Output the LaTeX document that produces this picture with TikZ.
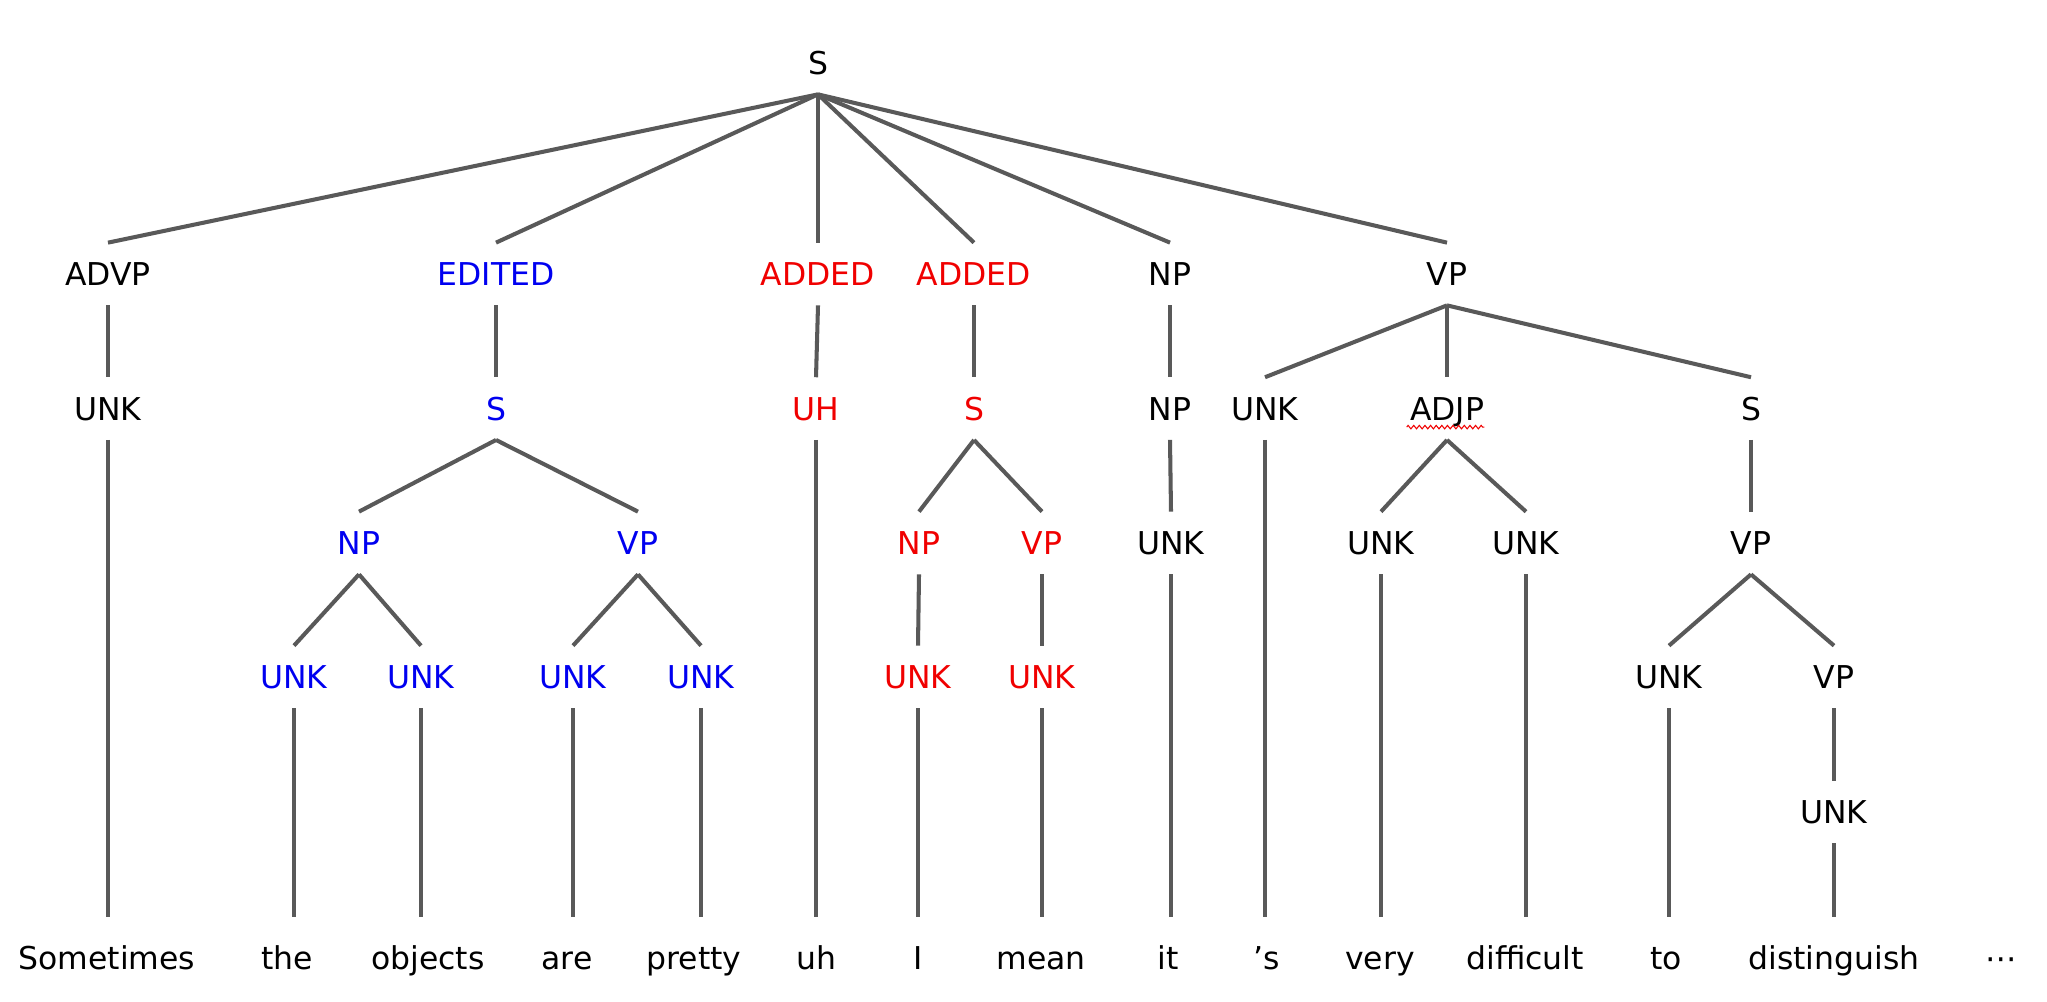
\documentclass[tikz,border=0pt]{standalone}
\usepackage{fontspec}
\setmainfont{DejaVu Sans}
\usepackage{tikz}
\usetikzlibrary{decorations.pathmorphing}
\definecolor{edgegray}{RGB}{89,89,89}
\definecolor{editblue}{RGB}{0,0,240}
\definecolor{addred}{RGB}{240,0,0}
\tikzstyle{tag}=[inner sep=0pt, text height=24.2pt, text depth=11.1pt, font=\fontsize{17.9pt}{21pt}\selectfont]
\tikzstyle{edited}=[tag, text=editblue]
\tikzstyle{added}=[tag, text=addred]
\tikzstyle{word}=[tag, text height=29.6pt, anchor=base]
\tikzstyle{squiggle}=[draw=addred, line width=0.6pt, decorate, decoration={zigzag, segment length=3.2pt, amplitude=1pt}]
\newcommand{\tagnode}{\node[tag]}
\newcommand{\wordnode}{\node[word]}

\begin{document}
\begin{tikzpicture}[x=0.02cm, y=-0.02cm,
            every edge/.style={draw, edgegray, line width=2.3pt}
        ]
            \useasboundingbox (0,0) rectangle (2047,1001);

            \tagnode (n0) at (818,63) {S};

            \tagnode (n1) at (108,274) {ADVP};
            \node[edited] (n2) at (496,274) {EDITED};
            \node[added] (n3) at (818,274) {ADDED};
            \node[added] (n4) at (974,274) {ADDED};
            \tagnode (n5) at (1170,274) {NP};
            \tagnode (n6) at (1447,274) {VP};

            \tagnode (n7) at (108,408.6) {UNK};
            \node[edited] (n8) at (496,408.6) {S};
            \node[added] (n9) at (816,408.6) {UH};
            \node[added] (n10) at (974,408.6) {S};
            \tagnode (n11) at (1170,408.6) {NP};
            \tagnode (n12) at (1265,408.6) {UNK};
            \tagnode (n13) at (1447,408.6) {ADJP};
            \tagnode (n14) at (1751,408.6) {S};

            \node[edited] (n15) at (359,543) {NP};
            \node[edited] (n16) at (638,543) {VP};
            \node[added] (n17) at (919,543) {NP};
            \node[added] (n18) at (1042,543) {VP};
            \tagnode (n19) at (1171,543) {UNK};
            \tagnode (n20) at (1381,543) {UNK};
            \tagnode (n21) at (1526,543) {UNK};
            \tagnode (n22) at (1751,543) {VP};

            \node[edited] (n23) at (294,677) {UNK};
            \node[edited] (n24) at (421,677) {UNK};
            \node[edited] (n25) at (573,677) {UNK};
            \node[edited] (n26) at (701,677) {UNK};
            \node[added] (n27) at (918,677) {UNK};
            \node[added] (n28) at (1042,677) {UNK};
            \tagnode (n29) at (1669,677) {UNK};
            \tagnode (n30) at (1834,677) {VP};

            \tagnode (n31) at (1834,812) {UNK};

            \wordnode (w1) at (107,969) {Sometimes};
            \wordnode (w2) at (287,969) {the};
            \wordnode (w3) at (428,969) {objects};
            \wordnode (w4) at (567,969) {are};
            \wordnode (w5) at (694,969) {pretty};
            \wordnode (w6) at (816,969) {uh};
            \wordnode (w7) at (918,969) {I};
            \wordnode (w8) at (1041,969) {mean};
            \wordnode (w9) at (1168,969) {it};
            \wordnode (w10) at (1267,969) {’s};
            \wordnode (w11) at (1380,969) {very};
            \wordnode (w12) at (1525,969) {difficult};
            \wordnode (w13) at (1666,969) {to};
            \wordnode (w14) at (1834,969) {distinguish};
            \wordnode (w15) at (2001,969) {⋯};

            \path[squiggle] ([shift={(-3,7)}]n13.base west) -- ([shift={(0,7)}]n13.base east);

            \path
                (n0.south) edge (n1.north)
                (n0.south) edge (n2.north)
                (n0.south) edge (n3.north)
                (n0.south) edge (n4.north)
                (n0.south) edge (n5.north)
                (n0.south) edge (n6.north)

                (n1.south) edge (n7.north)
                (n2.south) edge (n8.north)
                (n3.south) edge (n9.north)
                (n4.south) edge (n10.north)
                (n5.south) edge (n11.north)
                (n6.south) edge (n12.north)
                (n6.south) edge (n13.north)
                (n6.south) edge (n14.north)

                (n7.south) edge (n7.south |- w1.north)
                (n8.south) edge (n15.north)
                (n8.south) edge (n16.north)
                (n9.south) edge (n9.south |- w6.north)
                (n10.south) edge (n17.north)
                (n10.south) edge (n18.north)
                (n11.south) edge (n19.north)
                (n12.south) edge (n12.south |- w10.north)
                (n13.south) edge (n20.north)
                (n13.south) edge (n21.north)
                (n14.south) edge (n22.north)

                (n15.south) edge (n23.north)
                (n15.south) edge (n24.north)
                (n16.south) edge (n25.north)
                (n16.south) edge (n26.north)
                (n17.south) edge (n27.north)
                (n18.south) edge (n28.north)
                (n19.south) edge (n19.south |- w9.north)
                (n20.south) edge (n20.south |- w11.north)
                (n21.south) edge (n21.south |- w12.north)
                (n22.south) edge (n29.north)
                (n22.south) edge (n30.north)

                (n23.south) edge (n23.south |- w2.north)
                (n24.south) edge (n24.south |- w3.north)
                (n25.south) edge (n25.south |- w4.north)
                (n26.south) edge (n26.south |- w5.north)
                (n27.south) edge (n27.south |- w7.north)
                (n28.south) edge (n28.south |- w8.north)
                (n29.south) edge (n29.south |- w13.north)
                (n30.south) edge (n31.north)
                (n31.south) edge (n31.south |- w14.north)
            ;
        \end{tikzpicture}
\end{document}
